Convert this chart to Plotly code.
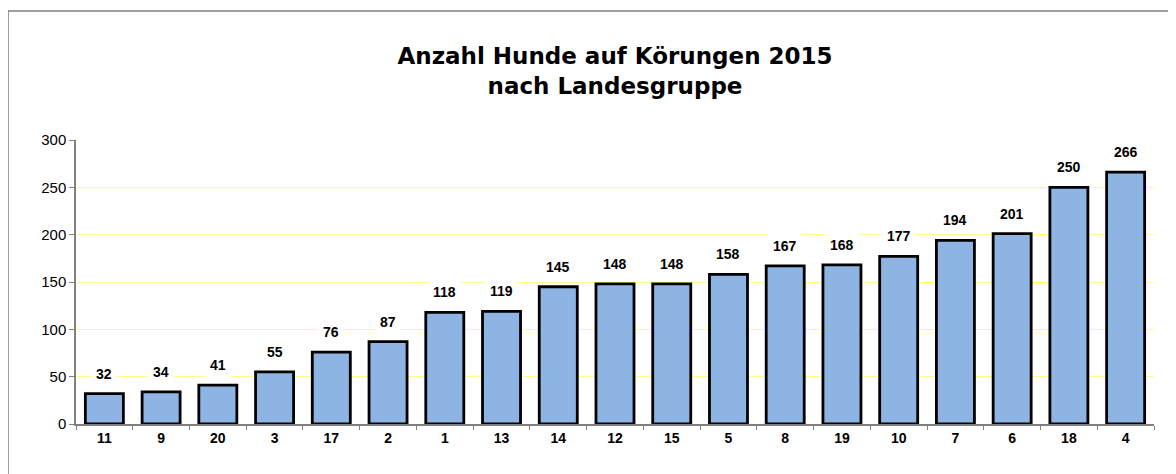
import plotly.graph_objects as go

categories = ["11", "9", "20", "3", "17", "2", "1", "13", "14", "12", "15", "5", "8", "19", "10", "7", "6", "18", "4"]
values = [32, 34, 41, 55, 76, 87, 118, 119, 145, 148, 148, 158, 167, 168, 177, 194, 201, 250, 266]
title_lines = ["Anzahl Hunde auf Körungen 2015", "nach Landesgruppe"]
y_ticks = [0, 50, 100, 150, 200, 250, 300]

OFF = 8  # page body margin
W, H = 1176 - OFF, 474 - OFF
L, R, T, B = 76 - OFF, 22, 140 - OFF, 50
pw, ph = W - L - R, H - T - B

fig = go.Figure()
fig.add_trace(go.Bar(
    x=categories, y=values,
    marker=dict(color="#8EB4E3", line=dict(color="black", width=2.8)),
    width=0.67,
    hoverinfo="x+y",
))

for i, v in enumerate(values):
    fig.add_annotation(
        x=i, y=v, text=f"<b>{v}</b>", showarrow=False,
        yshift=20, bgcolor="white", borderpad=4,
        font=dict(family="Liberation Sans, Arial", size=14, color="black"),
    )

def px_x(p):
    return (p - OFF - L) / pw
def px_y(p):
    return (H - B - (p - OFF)) / ph

fig.add_shape(type="rect", xref="paper", yref="paper",
              x0=px_x(8), x1=px_x(1190), y0=px_y(11), y1=px_y(490),
              line=dict(color="#7f7f7f", width=1.5), fillcolor="rgba(0,0,0,0)", layer="below")

fig.update_layout(
    width=W, height=H,
    margin=dict(l=L, r=R, t=T, b=B),
    paper_bgcolor="white", plot_bgcolor="white",
    showlegend=False,
    title=dict(text="<b>" + "<br>".join(title_lines) + "</b>",
               x=(L + pw / 2) / W, xanchor="center",
               y=1 - (64 - OFF) / H, yanchor="middle",
               font=dict(family="DejaVu Sans, Verdana", size=23, color="black")),
    font=dict(family="Liberation Sans, Arial", color="black"),
)
fig.update_xaxes(
    type="category", showgrid=False,
    showline=True, linecolor="#808080", linewidth=1.5,
    ticks="outside", tickson="boundaries", ticklen=4, tickcolor="#808080",
    tickfont=dict(family="Liberation Sans, Arial", size=14, color="black", weight="bold"),
)
fig.update_yaxes(
    range=[0, 300], tickvals=y_ticks,
    showgrid=True, gridcolor="#FFFF80", gridwidth=1.2,
    showline=True, linecolor="#808080", linewidth=1.5,
    ticks="outside", ticklen=5, tickcolor="#808080",
    tickfont=dict(family="Liberation Sans, Arial", size=15, color="black"),
    zeroline=False,
)

fig.write_html("out.html")
